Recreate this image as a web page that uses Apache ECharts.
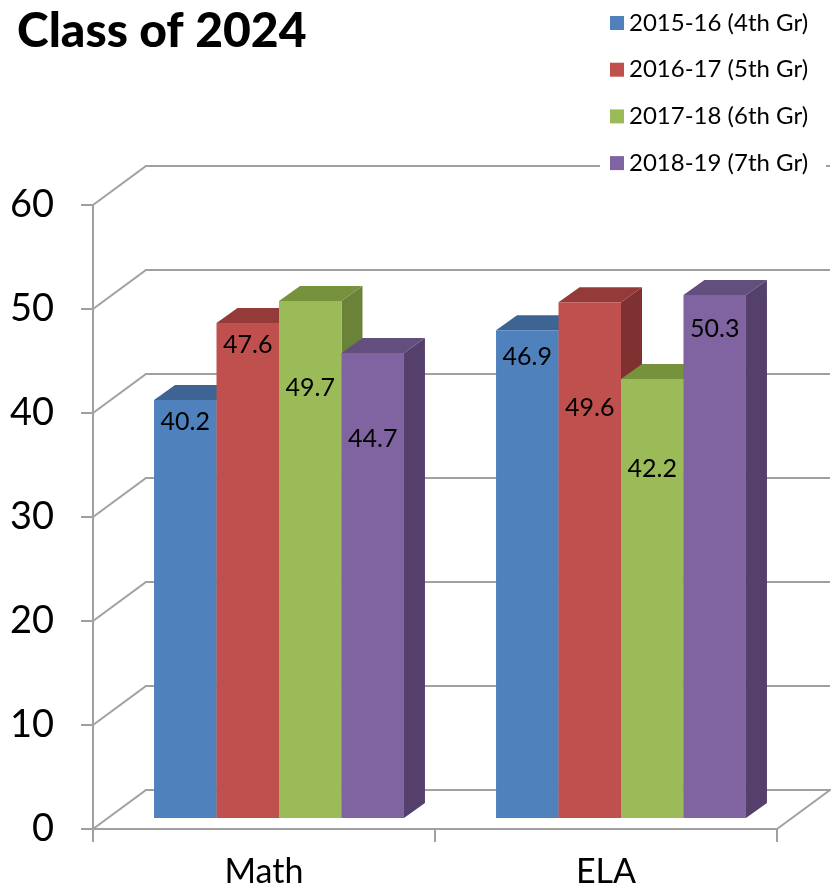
<!DOCTYPE html>
<html>
<head>
<meta charset="utf-8">
<script src="https://cdn.jsdelivr.net/npm/echarts@6/dist/echarts.min.js"></script>
<style>
  html, body { margin: 0; padding: 0; background: #fff; }
  #main { width: 831px; height: 889px; }
</style>
</head>
<body>
<div id="main"></div>
<script>
/* Class of 2024 - 3D style clustered columns */
var categories = ['Math', 'ELA'];
var years = ['2015-16 (4th Gr)', '2016-17 (5th Gr)', '2017-18 (6th Gr)', '2018-19 (7th Gr)'];
var scores2015 = [40.2, 46.9];
var scores2016 = [47.6, 49.6];
var scores2017 = [49.7, 42.2];
var scores2018 = [44.7, 50.3];
var yTicks = [0, 10, 20, 30, 40, 50, 60];

// layout only: how far below the bar top each value label sits (px)
var labelDrop = [[22, 27], [22, 106], [87, 90], [86, 34]];

var faces = [
  { front: '#4F81BD', top: '#3E6494', side: '#385D8A' },
  { front: '#C0504D', top: '#943B39', side: '#7E3130' },
  { front: '#9BBB59', top: '#76923C', side: '#6A8339' },
  { front: '#8064A2', top: '#624F7D', side: '#54406A' }
];

var WALL_DX = 53, WALL_DY = -39;   // back wall offset
var FRONT_DX = 15, FRONT_DY = -11; // bar front face offset from front plane
var BAR_DX = 21, BAR_DY = -15;     // bar depth
var FONT = 'Lato, "Open Sans", sans-serif';

(function(){
	var myChart = echarts.init(document.getElementById('main'));

	function wallItem(params, api) {
		var cs = params.coordSys;
		var y = api.coord([0, api.value(1)])[1];
		var l = cs.x, r = cs.x + cs.width;
		var pts = [[l, y], [l + WALL_DX, y + WALL_DY], [r + WALL_DX, y + WALL_DY]];
		if (api.value(1) === 0) pts.push([r, y]);
		return {
			type: 'polyline',
			shape: { points: pts },
			style: { stroke: '#A0A0A0', lineWidth: 2, fill: null }
		};
	}

	function barSeries(k, values) {
		return {
			name: years[k],
			type: 'custom',
			itemStyle: { color: faces[k].front },
			data: values.map(function (v, i) { return [i, v]; }),
			renderItem: function (params, api) {
				var idx = api.value(0);
				var base = api.coord([idx, 0]);
				var top = api.coord([idx, api.value(1)]);
				var band = api.size([1, 0])[0];
				var w = band * 0.1827;
				var x0 = base[0] + FRONT_DX - 2 * w + k * w;
				var x1 = x0 + w;
				var yb = base[1] + FRONT_DY;
				var yt = top[1] + FRONT_DY;
				var f = faces[k];
				return {
					type: 'group',
					children: [
						{ type: 'polygon', shape: { points: [[x1, yb], [x1 + BAR_DX, yb + BAR_DY], [x1 + BAR_DX, yt + BAR_DY], [x1, yt]] }, style: { fill: f.side } },
						{ type: 'polygon', shape: { points: [[x0, yt], [x1, yt], [x1 + BAR_DX, yt + BAR_DY], [x0 + BAR_DX, yt + BAR_DY]] }, style: { fill: f.top } },
						{ type: 'rect', shape: { x: x0, y: yt, width: w, height: yb - yt }, style: { fill: f.front } },
						{ type: 'text', style: {
							x: (x0 + x1) / 2, y: yt + labelDrop[k][idx],
							text: api.value(1).toFixed(1),
							fill: '#000', font: '25px ' + FONT,
							align: 'center', verticalAlign: 'middle'
						} }
					]
				};
			}
		};
	}

	var option = {
		backgroundColor: '#fff',
		animation: false,
		title: {
			text: 'Class of 2024',
			left: 12, top: 3,
			textStyle: { fontFamily: FONT, fontSize: 48, fontWeight: 900, color: '#000' }
		},
		legend: {
			orient: 'vertical',
			left: 600, top: 7,
			padding: [4, 18, 4, 10],
			backgroundColor: '#fff',
			itemWidth: 14, itemHeight: 14,
			itemGap: 22.7,
			icon: 'rect',
			textStyle: { fontFamily: FONT, fontSize: 24, color: '#000', lineHeight: 24 },
			data: years
		},
		grid: { left: 93, right: 54, top: 205, bottom: 60 },
		xAxis: {
			type: 'category',
			data: categories,
			axisLine: { lineStyle: { color: '#A0A0A0', width: 2 } },
			axisTick: { show: true, length: 13, lineStyle: { color: '#A0A0A0', width: 2 } },
			axisLabel: { margin: 26, fontFamily: FONT, fontSize: 34, color: '#000' }
		},
		yAxis: {
			type: 'value',
			min: 0, max: 60, interval: 10,
			axisLine: { show: true, lineStyle: { color: '#A0A0A0', width: 2 } },
			axisTick: { show: true, length: 12, lineStyle: { color: '#A0A0A0', width: 2 } },
			splitLine: { show: false },
			axisLabel: { margin: 39, fontFamily: FONT, fontSize: 38, color: '#000' }
		},
		series: [
			{
				type: 'custom',
				silent: true,
				data: yTicks.map(function (v) { return [0, v]; }),
				renderItem: wallItem
			},
			barSeries(0, scores2015),
			barSeries(1, scores2016),
			barSeries(2, scores2017),
			barSeries(3, scores2018)
		]
	};
	myChart.setOption(option);
})();
</script>
</body>
</html>
